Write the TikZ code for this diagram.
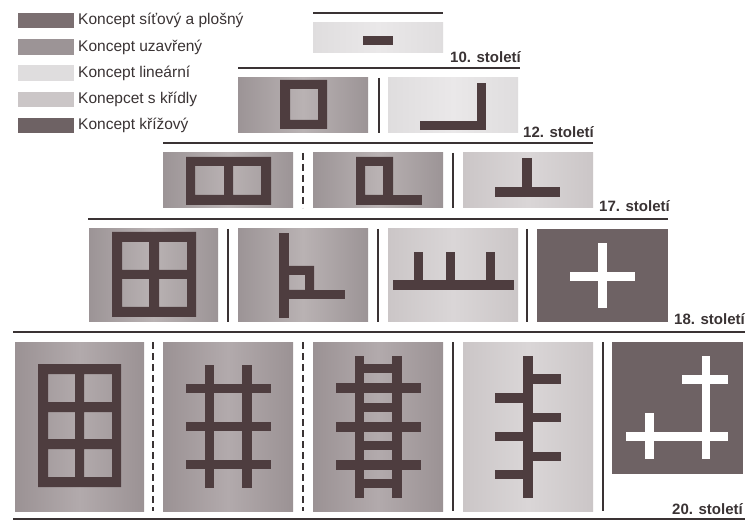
\documentclass[tikz,border=0pt]{standalone}
\usepackage{fontspec}
\setmainfont{Liberation Sans}
\definecolor{uzE}{HTML}{9C9496}
\definecolor{uzM}{HTML}{B9B2B3}
\definecolor{linE}{HTML}{DFDDDE}
\definecolor{linM}{HTML}{EAE8E9}
\definecolor{krE}{HTML}{CBC6C7}
\definecolor{krM}{HTML}{DAD6D7}
\definecolor{twE}{HTML}{9B9294}
\definecolor{twM}{HTML}{B2AAAC}
\definecolor{krizc}{HTML}{6E6264}
\definecolor{sitc}{HTML}{7B6F71}
\definecolor{barc}{HTML}{4E3D3F}
\definecolor{linec}{HTML}{3A3334}
\definecolor{txtc}{HTML}{3A3334}
\newcommand\pnl[6]{\shade[left color=#5,right color=#5,middle color=#6] (#1,#2) rectangle (#3,#4);}
\begin{document}
\begin{tikzpicture}[x=1pt,y=-1pt,
  hline/.style={draw=linec,line width=2.2pt},
  solidsep/.style={draw=linec,line width=1.4pt},
  dashsep/.style={draw=linec,line width=1.4pt,dash pattern=on 7pt off 4pt},
  bar/.style={fill=barc},
  wbar/.style={fill=white},
  century/.style={font=\fontsize{15}{15}\selectfont\bfseries,text=txtc,anchor=base east,inner sep=0pt},
  legtext/.style={font=\fontsize{15.5}{16}\selectfont,text=txtc,anchor=west,inner sep=0pt}]
\useasboundingbox[fill=white] (0,0) rectangle (747,521);

% ---------- legend ----------
\fill[sitc] (18,13) rectangle (74,28);
\fill[uzE]  (18,39) rectangle (74,55);
\fill[linE] (18,65) rectangle (74,81);
\fill[krE]  (18,92) rectangle (74,107);
\fill[krizc](18,118) rectangle (74,133);
\node[legtext] (l1) at (78,20.5) {Koncept síťový a plošný};
\node[legtext] (l2) at (78,47) {Koncept uzavřený};
\node[legtext] (l3) at (78,73) {Koncept lineární};
\node[legtext] (l4) at (78,99.5) {Konepcet s křídly};
\node[legtext] (l5) at (78,125.5) {Koncept křížový};

% ---------- horizontal rules ----------
\draw[hline] (313,13) -- (443,13);
\draw[hline] (238,68) -- (520,68);
\draw[hline] (163,143) -- (593,143);
\draw[hline] (88,219) -- (668,219);
\draw[hline] (13,332) -- (745,332);
\draw[hline] (13,519) -- (745,519);

% ---------- century labels ----------
\node[century] (c10) at (521,63) {10. století};
\node[century] (c12) at (594,138) {12. století};
\node[century] (c17) at (670,212) {17. století};
\node[century] (c18) at (745,325) {18. století};
\node[century] (c20) at (743,514) {20. století};

% ---------- 10th century ----------
\pnl{313}{23}{443}{53}{linE}{linM}
\fill[bar] (363,36) rectangle (393,45);

% ---------- 12th century ----------
\pnl{238}{78}{368}{133}{uzE}{uzM}
\fill[bar,even odd rule] (280,80) rectangle (327,129) (290,89) rectangle (318,120);
\draw[solidsep] (379,78) -- (379,133);
\pnl{388}{78}{518}{133}{linE}{linM}
\fill[bar] (477,83) rectangle (486,130);
\fill[bar] (420,121) rectangle (486,130);

% ---------- 17th century ----------
\pnl{163}{153}{293}{208}{uzE}{uzM}
\fill[bar,even odd rule] (186,157) rectangle (271,205) (195,166) rectangle (224,195) (233,166) rectangle (261,195);
\draw[dashsep] (303,153) -- (303,208);
\pnl{313}{153}{443}{208}{uzE}{uzM}
\fill[bar,even odd rule] (356,157) rectangle (393,205) (365,166) rectangle (383,195);
\fill[bar] (390,195) rectangle (422,205);
\draw[solidsep] (453,153) -- (453,208);
\pnl{463}{153}{593}{208}{krE}{krM}
\fill[bar] (522,158) rectangle (532,190);
\fill[bar] (495,187) rectangle (560,197);

% ---------- 18th century ----------
\pnl{89}{229}{218}{322}{uzE}{uzM}
\fill[bar,even odd rule] (112,232) rectangle (196,317)
  (122,242) rectangle (149,270) (159,242) rectangle (187,270)
  (122,279) rectangle (149,307) (159,279) rectangle (187,307);
\draw[solidsep] (228,229) -- (228,322);
\pnl{238}{229}{368}{322}{uzE}{uzM}
\fill[bar] (279,233) rectangle (289,318);
\fill[bar,even odd rule] (285,266) rectangle (314,299) (289,275) rectangle (305,290);
\fill[bar] (310,290) rectangle (345,299);
\draw[solidsep] (378,229) -- (378,322);
\pnl{388}{229}{518}{322}{krE}{krM}
\fill[bar] (393,280) rectangle (514,290);
\fill[bar] (414,252) rectangle (423,281);
\fill[bar] (446,252) rectangle (455,281);
\fill[bar] (486,252) rectangle (495,281);
\draw[solidsep] (527,229) -- (527,322);
\fill[krizc] (537,229) rectangle (668,322);
\fill[wbar] (598,243) rectangle (607,308);
\fill[wbar] (570,272) rectangle (635,281);

% ---------- 20th century ----------
\pnl{15}{342}{144}{511}{twE}{twM}
\fill[bar,even odd rule] (38,364) rectangle (121,487)
  (48,374) rectangle (75,402) (84,374) rectangle (112,402)
  (48,412) rectangle (75,439) (84,412) rectangle (112,439)
  (48,449) rectangle (75,477) (84,449) rectangle (112,477);
\draw[dashsep] (153,342) -- (153,511);
\pnl{163}{342}{293}{511}{twE}{twM}
\fill[bar] (205,365) rectangle (214,488);
\fill[bar] (242,365) rectangle (252,488);
\fill[bar] (186,384) rectangle (271,393);
\fill[bar] (186,422) rectangle (271,431);
\fill[bar] (186,460) rectangle (271,469);
\draw[dashsep] (303,342) -- (303,511);
\pnl{313}{342}{443}{511}{twE}{twM}
\fill[bar] (355,356) rectangle (364,498);
\fill[bar] (392,356) rectangle (402,498);
\fill[bar] (336,383) rectangle (421,393);
\fill[bar] (336,422) rectangle (421,432);
\fill[bar] (336,460) rectangle (421,470);
\fill[bar] (364,364) rectangle (392,373);
\fill[bar] (364,403) rectangle (392,412);
\fill[bar] (364,441) rectangle (392,450);
\fill[bar] (364,479) rectangle (392,488);
\draw[solidsep] (453,342) -- (453,511);
\pnl{463}{342}{593}{511}{krE}{krM}
\fill[bar] (523,356) rectangle (533,498);
\fill[bar] (533,374) rectangle (561,384);
\fill[bar] (533,413) rectangle (561,422);
\fill[bar] (533,452) rectangle (561,461);
\fill[bar] (495,393) rectangle (523,403);
\fill[bar] (495,432) rectangle (523,441);
\fill[bar] (495,470) rectangle (523,479);
\draw[solidsep] (603,342) -- (603,511);
\fill[krizc] (612,342) rectangle (743,474);
\fill[wbar] (702,356) rectangle (710,459);
\fill[wbar] (682,375) rectangle (728,384);
\fill[wbar] (626,432) rectangle (728,441);
\fill[wbar] (645,413) rectangle (654,459);
\end{tikzpicture}
\end{document}
